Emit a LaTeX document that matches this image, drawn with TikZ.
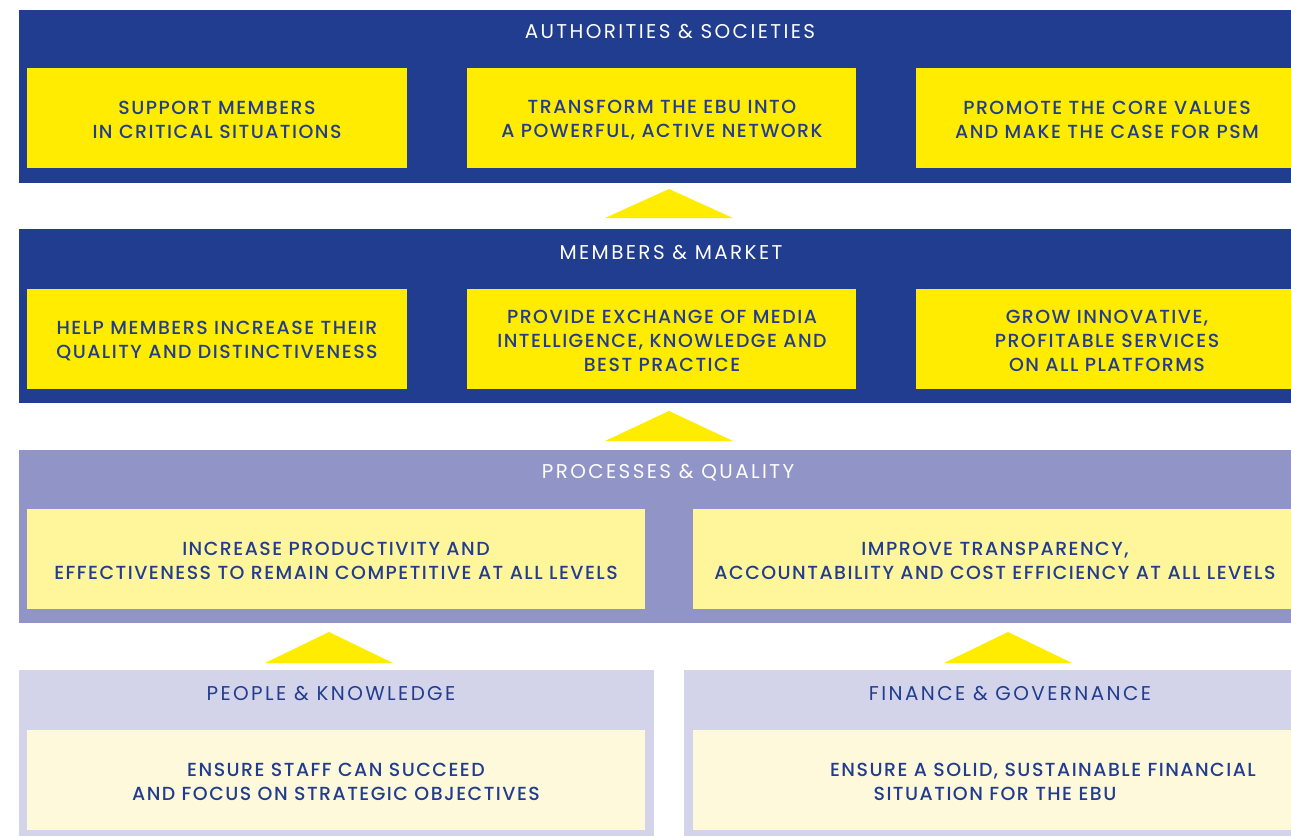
\documentclass[tikz,border=0pt]{standalone}
\usepackage{fontspec}
\setmainfont{Poppins}[UprightFont=* Medium]
\newfontfamily\bodyfont{Poppins}[UprightFont=* Medium, LetterSpace=7.8]
\newfontfamily\titlefont{Poppins}[LetterSpace=12]
\definecolor{ebublue}{HTML}{213D8F}
\definecolor{ebuyellow}{HTML}{FFEC00}
\definecolor{lav}{HTML}{9194C7}
\definecolor{paleyel}{HTML}{FFF59B}
\definecolor{lightlav}{HTML}{D3D3EA}
\definecolor{creamyel}{HTML}{FFF9DB}
\tikzset{
  rbox/.style={inner sep=0pt, outer sep=0pt, draw=none, anchor=north west},
  txt/.style={font=\bodyfont\fontsize{19}{24}\selectfont, align=center, text=ebublue, inner sep=0pt},
  ttl/.style={font=\titlefont\fontsize{20}{24}\selectfont, align=center, text=white, inner sep=0pt},
  subttl/.style={ttl, text=ebublue},
  tri/.style={fill=ebuyellow}
}
\begin{document}
\begin{tikzpicture}[x=1bp,y=-1bp]
\useasboundingbox (0,0) rectangle (1291,836);
\clip (0,0) rectangle (1291,836);
% band 1
\node[rbox, fill=ebublue, minimum width=1302bp, minimum height=173bp] (band1) at (19,10) {};
\node[ttl] (t1) at (670,32) {AUTHORITIES \& SOCIETIES};
\node[rbox, fill=ebuyellow, minimum width=380bp, minimum height=100bp] (a1) at (27,68) {};
\node[rbox, fill=ebuyellow, minimum width=389bp, minimum height=100bp] (a2) at (467,68) {};
\node[rbox, fill=ebuyellow, minimum width=382bp, minimum height=100bp] (a3) at (916,68) {};
\node[txt] (ta1) at (217,120) {SUPPORT MEMBERS\\IN CRITICAL SITUATIONS};
\node[txt] (ta2) at (662,120) {TRANSFORM THE EBU INTO\\A POWERFUL, ACTIVE NETWORK};
\node[txt] (ta3) at (1107,120) {PROMOTE THE CORE VALUES\\AND MAKE THE CASE FOR PSM};
% arrow 1
\coordinate (p1) at (669,189);
\fill[tri] (p1) -- ++(64,29) -- ++(-128,0) -- cycle;
% band 2
\node[rbox, fill=ebublue, minimum width=1302bp, minimum height=174bp] (band2) at (19,229) {};
\node[ttl] (t2) at (671,253) {MEMBERS \& MARKET};
\node[rbox, fill=ebuyellow, minimum width=380bp, minimum height=100bp] (b1) at (27,289) {};
\node[rbox, fill=ebuyellow, minimum width=389bp, minimum height=100bp] (b2) at (467,289) {};
\node[rbox, fill=ebuyellow, minimum width=382bp, minimum height=100bp] (b3) at (916,289) {};
\node[txt] (tb1) at (217,341) {HELP MEMBERS INCREASE THEIR\\QUALITY AND DISTINCTIVENESS};
\node[txt] (tb2) at (662,341) {PROVIDE EXCHANGE OF MEDIA\\INTELLIGENCE, KNOWLEDGE AND\\BEST PRACTICE};
\node[txt] (tb3) at (1107,341) {GROW INNOVATIVE,\\PROFITABLE SERVICES\\ON ALL PLATFORMS};
% arrow 2
\coordinate (p2) at (669,411);
\fill[tri] (p2) -- ++(64,30) -- ++(-128,0) -- cycle;
% band 3
\node[rbox, fill=lav, minimum width=1302bp, minimum height=173bp] (band3) at (19,450) {};
\node[ttl] (t3) at (668,473) {PROCESSES \& QUALITY};
\node[rbox, fill=paleyel, minimum width=618bp, minimum height=100bp] (c1) at (27,509) {};
\node[rbox, fill=paleyel, minimum width=605bp, minimum height=100bp] (c2) at (693,509) {};
\node[txt] (tc1) at (336,561) {INCREASE PRODUCTIVITY AND\\EFFECTIVENESS TO REMAIN COMPETITIVE AT ALL LEVELS};
\node[txt] (tc2) at (995,561) {IMPROVE TRANSPARENCY,\\ACCOUNTABILITY AND COST EFFICIENCY AT ALL LEVELS};
% arrows 3
\coordinate (p3) at (329,632);
\coordinate (p4) at (1008,632);
\fill[tri] (p3) -- ++(64,31) -- ++(-128,0) -- cycle;
\fill[tri] (p4) -- ++(64,31) -- ++(-128,0) -- cycle;
% bottom boxes
\node[rbox, fill=lightlav, minimum width=635bp, minimum height=170bp] (d1) at (19,670) {};
\node[rbox, fill=lightlav, minimum width=640bp, minimum height=170bp] (d2) at (684,670) {};
\node[subttl] (td1t) at (331,694) {PEOPLE \& KNOWLEDGE};
\node[subttl] (td2t) at (1010,694) {FINANCE \& GOVERNANCE};
\node[rbox, fill=creamyel, minimum width=618bp, minimum height=100bp] (e1) at (27,730) {};
\node[rbox, fill=creamyel, minimum width=605bp, minimum height=100bp] (e2) at (693,730) {};
\node[txt] (te1) at (336,782) {ENSURE STAFF CAN SUCCEED\\AND FOCUS ON STRATEGIC OBJECTIVES};
\node[txt, anchor=base] (te2a) at (1043,776) {ENSURE A SOLID, SUSTAINABLE FINANCIAL};
\node[txt, anchor=base] (te2b) at (995,800) {SITUATION FOR THE EBU};
\end{tikzpicture}
\end{document}
